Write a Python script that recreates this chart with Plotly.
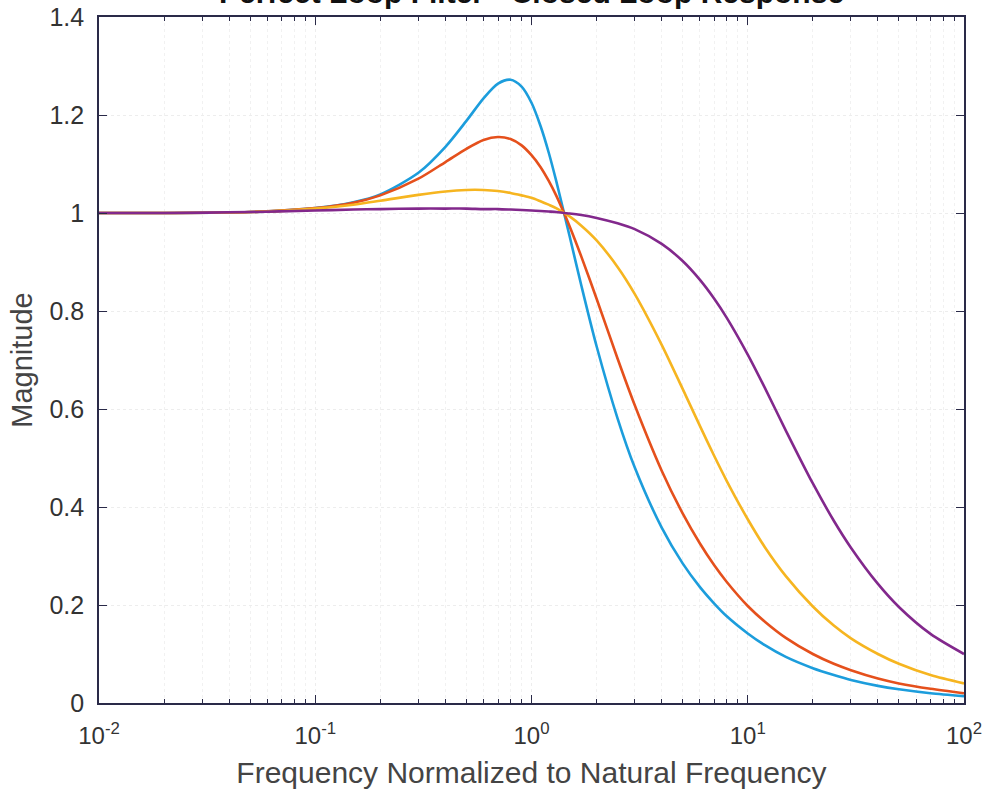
import plotly.graph_objects as go

freq = [0.01, 0.02, 0.05, 0.1, 0.15, 0.2, 0.3, 0.4, 0.5, 0.6, 0.7, 0.8, 0.9, 1.0, 1.1,
        1.2, 1.3, 1.414, 1.5, 1.7, 2, 2.5, 3, 4, 5, 6, 7, 8, 10, 12, 15, 20, 25, 30,
        40, 50, 70, 100]

mag_blue = [1.000, 1.000, 1.002, 1.010, 1.022, 1.038, 1.082, 1.135, 1.188, 1.234, 1.264,
            1.272, 1.258, 1.225, 1.178, 1.124, 1.066, 1.000, 0.953, 0.852, 0.728, 0.581,
            0.481, 0.358, 0.285, 0.237, 0.203, 0.177, 0.142, 0.118, 0.094, 0.071, 0.057,
            0.047, 0.035, 0.028, 0.020, 0.014]
mag_red = [1.000, 1.000, 1.002, 1.010, 1.021, 1.036, 1.070, 1.104, 1.131, 1.149, 1.155,
           1.151, 1.138, 1.118, 1.094, 1.066, 1.036, 1.000, 0.973, 0.911, 0.825, 0.703,
           0.608, 0.474, 0.387, 0.326, 0.281, 0.247, 0.198, 0.166, 0.133, 0.100, 0.080,
           0.067, 0.050, 0.040, 0.029, 0.020]
mag_yellow = [1.000, 1.000, 1.002, 1.009, 1.017, 1.025, 1.037, 1.044, 1.047, 1.047, 1.045,
              1.041, 1.036, 1.031, 1.024, 1.017, 1.010, 1.000, 0.993, 0.974, 0.944, 0.890,
              0.835, 0.731, 0.641, 0.566, 0.504, 0.453, 0.375, 0.318, 0.259, 0.197, 0.158,
              0.132, 0.100, 0.080, 0.057, 0.040]
mag_purple = [1.000, 1.000, 1.002, 1.005, 1.007, 1.008, 1.009, 1.009, 1.009, 1.008, 1.008,
              1.007, 1.006, 1.005, 1.004, 1.003, 1.002, 1.000, 0.999, 0.996, 0.990, 0.979,
              0.967, 0.937, 0.902, 0.864, 0.825, 0.786, 0.711, 0.643, 0.556, 0.448, 0.372,
              0.317, 0.243, 0.196, 0.141, 0.100]

series = [mag_blue, mag_red, mag_yellow, mag_purple]
colors = ["#1c9ddc", "#e5501c", "#f6b520", "#82288c"]

x_tickvals = [0.01, 0.1, 1, 10, 100]
x_ticktext = ["10<sup>-2</sup>", "10<sup>-1</sup>", "10<sup>0</sup>", "10<sup>1</sup>", "10<sup>2</sup>"]
y_tickvals = [0, 0.2, 0.4, 0.6, 0.8, 1.0, 1.2, 1.4]
y_ticktext = ["0", "0.2", "0.4", "0.6", "0.8", "1", "1.2", "1.4"]

title_text = "Perfect Loop Filter - Closed Loop Response"
x_title = "Frequency Normalized to Natural Frequency"
y_title = "Magnitude"

FONT = "Liberation Sans, Arial, Helvetica, sans-serif"
AXC = "#2a2a48"

fig = go.Figure()
for ys, c in zip(series, colors):
    fig.add_trace(go.Scatter(x=freq, y=ys, mode="lines",
                             line=dict(color=c, width=2.6, shape="spline", smoothing=0.8),
                             showlegend=False, hoverinfo="skip"))

fig.update_layout(
    width=984, height=798,
    margin=dict(l=99, r=20, t=17, b=95, autoexpand=False),
    paper_bgcolor="white", plot_bgcolor="white",
    font=dict(family=FONT, color="#333333"),
    showlegend=False,
)

fig.update_xaxes(
    type="log", range=[-2, 2], automargin=False,
    tickmode="array", tickvals=x_tickvals, ticktext=x_ticktext,
    ticks="inside", ticklen=8, tickwidth=1.3, tickcolor=AXC,
    showline=True, linecolor=AXC, linewidth=1.6, mirror="ticks",
    showgrid=True, gridcolor="#ededed", griddash="dot", gridwidth=1,
    tickfont=dict(size=24, color="#333333"),
    ticklabelstandoff=10,
    minor=dict(dtick="D1", ticks="inside", ticklen=4, tickwidth=1.1, tickcolor=AXC,
               showgrid=True, gridcolor="#f1f1f1", griddash="dot", gridwidth=1),
    title=dict(text=x_title, font=dict(size=30, color="#444444"), standoff=14),
    zeroline=False,
)
fig.update_yaxes(
    range=[0, 1.4], automargin=False,
    tickmode="array", tickvals=y_tickvals, ticktext=y_ticktext,
    ticks="inside", ticklen=8, tickwidth=1.3, tickcolor=AXC,
    showline=True, linecolor=AXC, linewidth=1.6, mirror="ticks",
    showgrid=True, gridcolor="#ededed", griddash="dot", gridwidth=1,
    tickfont=dict(size=25, color="#333333"),
    ticklabelstandoff=8,
    title=dict(text=y_title, font=dict(size=29, color="#444444"), standoff=8),
    zeroline=False,
)

fig.add_annotation(
    text="<b>" + title_text + "</b>", xref="paper", yref="paper",
    x=0.5, y=1, xanchor="center", yanchor="bottom", yshift=6, showarrow=False,
    font=dict(size=30, color="#111111", family=FONT),
)

fig.write_html("out.html", config={"displayModeBar": False},
               post_script="document.body.style.margin='0px';document.body.style.overflow='hidden';")
